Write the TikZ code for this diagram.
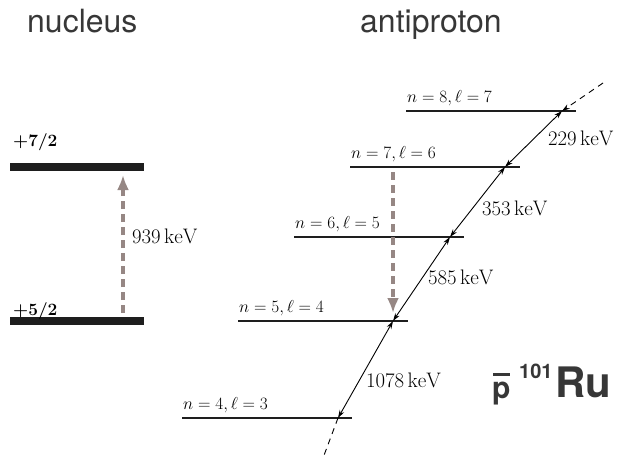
\documentclass[tikz,border=0pt]{standalone}
\usepackage{fontspec}
\setsansfont{TeX Gyre Heros}
\usetikzlibrary{arrows.meta}
\definecolor{taupe}{RGB}{150,135,132}
\definecolor{txtgray}{RGB}{55,55,55}
\definecolor{barcol}{RGB}{30,30,30}
\begin{document}
\begin{tikzpicture}[x=1pt,y=-1pt,
 title/.style={font=\sffamily\fontsize{32}{36}\selectfont, text=txtgray, anchor=base west, inner sep=0},
 lvllabel/.style={font=\fontsize{18.5}{21}\selectfont, anchor=base west, inner sep=0},
 kev/.style={font=\fontsize{21}{24}\selectfont, anchor=base west, inner sep=0},
 spin/.style={font=\fontsize{19}{21}\selectfont\boldmath, anchor=base west, inner sep=0},
 nucbar/.style={line width=8pt, barcol},
 lvl/.style={line width=2pt, barcol},
 casc/.style={line width=0.9pt, {Stealth[length=8pt,width=5pt]}-{Stealth[length=8pt,width=5pt]}},
 cascdash/.style={line width=0.9pt, dash pattern=on 6pt off 5pt},
 grayarrow/.style={line width=3.2pt, taupe, dash pattern=on 8pt off 5pt, -{Latex[length=15pt,width=12pt]}},
]
\useasboundingbox (0,0) rectangle (620,459);

% titles
\node[title] (tnuc) at (27,32) {nucleus};
\node[title] (tanti) at (360,32) {antiproton};

% nucleus
\coordinate (u1) at (10,167); \coordinate (u2) at (144,167);
\coordinate (l1) at (10,321); \coordinate (l2) at (144,321);
\draw[nucbar] (u1) -- (u2);
\draw[nucbar] (l1) -- (l2);
\node[spin] (s72) at (13,146) {$+7/2$};
\node[spin] (s52) at (13,315) {$+5/2$};
\coordinate (ga1) at (123,313); \coordinate (ga2) at (123,175);
\draw[grayarrow] (ga1) -- (ga2);
\node[kev] (k939) at (132,243) {$939\,\mathrm{keV}$};

% antiproton levels
\foreach \n/\l/\xa/\xb/\y in {8/7/406/576/111, 7/6/350/520/167, 6/5/294/464/237, 5/4/238/408/321, 4/3/182/352/418}{
  \coordinate (a\n) at (\xa,\y);
  \coordinate (b\n) at (\xb,\y);
  \draw[lvl] (a\n) -- (b\n);
  \node[lvllabel] (lab\n) at ([xshift=1pt,yshift=8.5pt]a\n) {$n=\n,\ell=\l$};
}

% cascade
\coordinate (i8) at (562,111);
\coordinate (i7) at (505,167);
\coordinate (i6) at (450,237);
\coordinate (i5) at (393,321);
\coordinate (i4) at (338,418);
\coordinate (ctop) at (603,83);
\coordinate (cbot) at (323,458);
\draw[cascdash, -{Stealth[length=8pt,width=5pt]}] (ctop) -- (i8);
\draw[casc] (i8) -- (i7);
\draw[casc] (i7) -- (i6);
\draw[casc] (i6) -- (i5);
\draw[casc] (i5) -- (i4);
\draw[cascdash] (i4) -- (cbot);

\node[kev] (k229) at (548,145) {$229\,\mathrm{keV}$};
\node[kev] (k353) at (482,215) {$353\,\mathrm{keV}$};
\node[kev] (k585) at (428,284) {$585\,\mathrm{keV}$};
\node[kev] (k1078) at (366,387) {$1078\,\mathrm{keV}$};

\coordinate (gb1) at (393,172); \coordinate (gb2) at (393,313);
\draw[grayarrow] (gb1) -- (gb2);

% pbar Ru
\node[font=\sffamily\bfseries\fontsize{30}{30}\selectfont, text=txtgray, anchor=base west, inner sep=0] (pp) at (492,398) {p};
\draw[line width=2.5pt, txtgray] ([xshift=1pt,yshift=7pt]pp.north west) -- ([xshift=-1pt,yshift=7pt]pp.north east);
\node[font=\sffamily\bfseries\fontsize{20}{20}\selectfont, text=txtgray, anchor=base west, inner sep=0] (mass) at (519,378) {101};
\node[font=\sffamily\bfseries\fontsize{42}{42}\selectfont, text=txtgray, anchor=base west, inner sep=0] (ru) at (555,397) {Ru};
\end{tikzpicture}
\end{document}
